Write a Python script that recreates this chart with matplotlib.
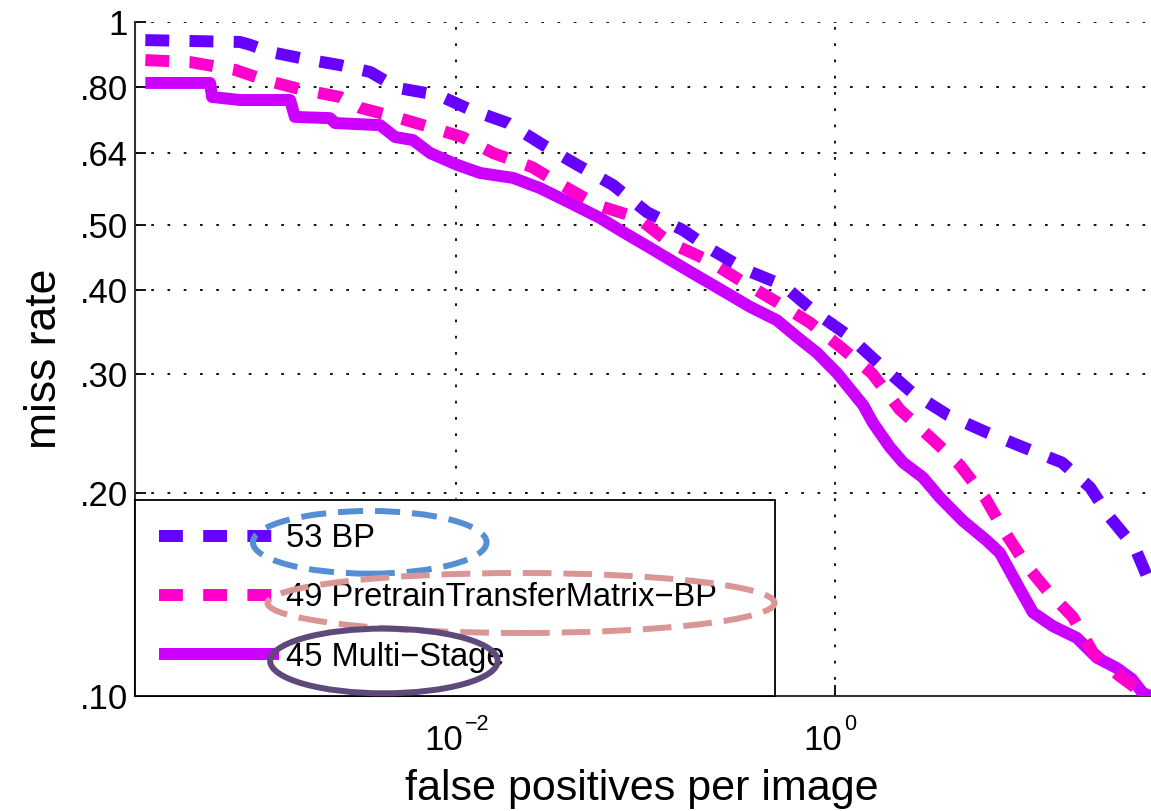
import matplotlib
matplotlib.use("Agg")
import matplotlib.pyplot as plt
from matplotlib.patches import Ellipse
from matplotlib.ticker import FixedLocator, FixedFormatter, NullLocator

# false positives per image / miss rate
bp_fppi = [2.29e-4, 7.24e-4, 8.18e-4, 1.04e-3, 1.60e-3, 2.44e-3, 3.52e-3, 4.94e-3,
           8.04e-3, 1.19e-2, 1.88e-2, 2.88e-2, 4.35e-2, 6.73e-2, 0.102, 0.158, 0.224,
           0.343, 0.532, 0.784, 1.17, 1.69, 2.55, 3.95, 6.34, 9.82, 15.8, 22.2, 28.3,
           38.3, 46.5]
bp_miss = [0.940, 0.934, 0.925, 0.903, 0.881, 0.863, 0.843, 0.798, 0.779, 0.741,
           0.708, 0.657, 0.614, 0.573, 0.522, 0.491, 0.459, 0.428, 0.407, 0.371,
           0.343, 0.312, 0.282, 0.261, 0.246, 0.234, 0.222, 0.204, 0.184, 0.166, 0.146]

ptm_fppi = [2.29e-4, 3.95e-4, 6.82e-4, 9.82e-4, 1.50e-3, 2.44e-3, 3.11e-3, 4.77e-3,
            6.70e-3, 1.08e-2, 1.57e-2, 2.52e-2, 3.62e-2, 5.55e-2, 9.12e-2, 0.135,
            0.214, 0.315, 0.494, 0.738, 1.09, 1.57, 2.20, 3.29, 4.57, 6.19, 7.89,
            10.3, 13.3, 18.0, 23.0, 31.9, 42.2, 46.5]
ptm_miss = [0.878, 0.872, 0.849, 0.820, 0.795, 0.774, 0.746, 0.723, 0.703, 0.675,
            0.639, 0.609, 0.573, 0.535, 0.512, 0.470, 0.443, 0.414, 0.384, 0.358,
            0.328, 0.301, 0.266, 0.240, 0.220, 0.197, 0.175, 0.156, 0.143, 0.131,
            0.116, 0.107, 0.101, 0.100]

ms_fppi = [2.29e-4, 5.03e-4, 5.15e-4, 7.24e-4, 1.33e-3, 1.41e-3, 2.16e-3, 2.30e-3,
           3.97e-3, 4.77e-3, 5.93e-3, 7.30e-3, 1.01e-2, 1.34e-2, 2.00e-2, 2.77e-2,
           4.00e-2, 5.75e-2, 7.33e-2, 0.106, 0.172, 0.238, 0.356, 0.494, 0.630, 0.804,
           1.03, 1.41, 1.59, 1.95, 2.29, 2.91, 3.58, 4.73, 6.34, 7.43, 9.47, 11.1,
           14.1, 18.9, 24.1, 30.8, 36.9, 42.2, 46.5]
ms_miss = [0.812, 0.812, 0.774, 0.766, 0.766, 0.723, 0.720, 0.708, 0.703, 0.675,
           0.668, 0.639, 0.614, 0.597, 0.587, 0.567, 0.539, 0.512, 0.491, 0.462,
           0.426, 0.404, 0.378, 0.361, 0.341, 0.323, 0.301, 0.270, 0.254, 0.234,
           0.222, 0.211, 0.197, 0.182, 0.170, 0.163, 0.144, 0.133, 0.127, 0.122,
           0.114, 0.110, 0.106, 0.101, 0.100]

labels = ["53 BP", "49 PretrainTransferMatrix\u2212BP", "45 Multi\u2212Stage"]
colors = ["#6600FF", "#FF00CC", "#CC00FF"]

y_ticks = [0.10, 0.20, 0.30, 0.40, 0.50, 0.64, 0.80, 1.0]
y_ticklabels = [".10", ".20", ".30", ".40", ".50", ".64", ".80", "1"]
x_ticks = [1e-2, 1e0]
x_exponents = ["\u22122", "0"]

plt.rcParams["font.family"] = ["Liberation Sans", "DejaVu Sans"]

fig = plt.figure(figsize=(11.51, 8.11), dpi=100)
ax = fig.add_axes([0.1173, 0.1418, 0.8827, 0.8311])
ax.set_xscale("log")
ax.set_yscale("log")

lw = 8.6
ms_line, = ax.plot(ms_fppi, ms_miss, color=colors[2], lw=lw, solid_capstyle="butt",
                   solid_joinstyle="round", zorder=3)
ptm_line, = ax.plot(ptm_fppi, ptm_miss, color=colors[1], lw=lw, linestyle=(0, (2.0, 1.7)),
                    dash_capstyle="butt", zorder=4)
bp_line, = ax.plot(bp_fppi, bp_miss, color=colors[0], lw=lw, linestyle=(0, (2.0, 1.7)),
                   dash_capstyle="butt", zorder=5)

ax.set_xlim(2.02e-4, 46.6)
ax.set_ylim(0.1, 1.0)

ax.yaxis.set_major_locator(FixedLocator(y_ticks))
ax.yaxis.set_major_formatter(FixedFormatter(y_ticklabels))
ax.yaxis.set_minor_locator(NullLocator())
ax.xaxis.set_major_locator(FixedLocator(x_ticks))
ax.xaxis.set_minor_locator(NullLocator())
ax.set_xticklabels(["", ""])

ax.tick_params(direction="in", length=8, width=1.3, labelsize=25)
ax.tick_params(axis="y", pad=5)
ax.grid(True, color="black", linestyle=(0, (1.5, 7.5)), lw=1.3)

# MATLAB-style 10^n labels: base and raised exponent as separate texts
for xt, ex in zip(x_ticks, x_exponents):
    ax.annotate("10", xy=(xt, 0), xycoords=("data", "axes fraction"),
                xytext=(5.4, -38.9), textcoords="offset points",
                ha="right", va="baseline", fontsize=25)
    ax.annotate(ex, xy=(xt, 0), xycoords=("data", "axes fraction"),
                xytext=(6.5, -24.5), textcoords="offset points",
                ha="left", va="baseline", fontsize=15.5)

for side in ["top", "right"]:
    ax.spines[side].set_visible(False)
for side in ["left", "bottom"]:
    ax.spines[side].set_linewidth(1.5)
    ax.spines[side].set_color("#333333")

ax.set_xlabel("false positives per image", fontsize=31, va="baseline")
ax.xaxis.set_label_coords(0.4985, -0.1543)
ax.set_ylabel("miss rate", fontsize=32, labelpad=11)

leg = ax.legend([bp_line, ptm_line, ms_line], labels, loc="lower left",
                bbox_to_anchor=(0, 0, 0.63, 0.29), mode="expand", borderaxespad=0,
                fontsize=23.5, handlelength=3.7, handletextpad=0.22, labelspacing=0.86,
                borderpad=0.72, fancybox=False, framealpha=1, edgecolor="black")
leg.get_frame().set_linewidth(1.3)
leg.set_zorder(6)

# hand-drawn highlight ellipses over the legend
ax.add_patch(Ellipse((0.231, 0.228), 0.230, 0.093, transform=ax.transAxes, fill=False,
                     edgecolor="#558ED5", lw=4.3, linestyle=(0, (4.2, 2.0)),
                     zorder=10, clip_on=False))
ax.add_patch(Ellipse((0.380, 0.138), 0.499, 0.089, transform=ax.transAxes, fill=False,
                     edgecolor="#D99694", lw=4.3, linestyle=(0, (4.8, 2.0)),
                     zorder=10, clip_on=False))
ax.add_patch(Ellipse((0.245, 0.052), 0.224, 0.096, transform=ax.transAxes, fill=False,
                     edgecolor="#5F497A", lw=4.3, zorder=10, clip_on=False))

fig.savefig("out.png", dpi=100)
